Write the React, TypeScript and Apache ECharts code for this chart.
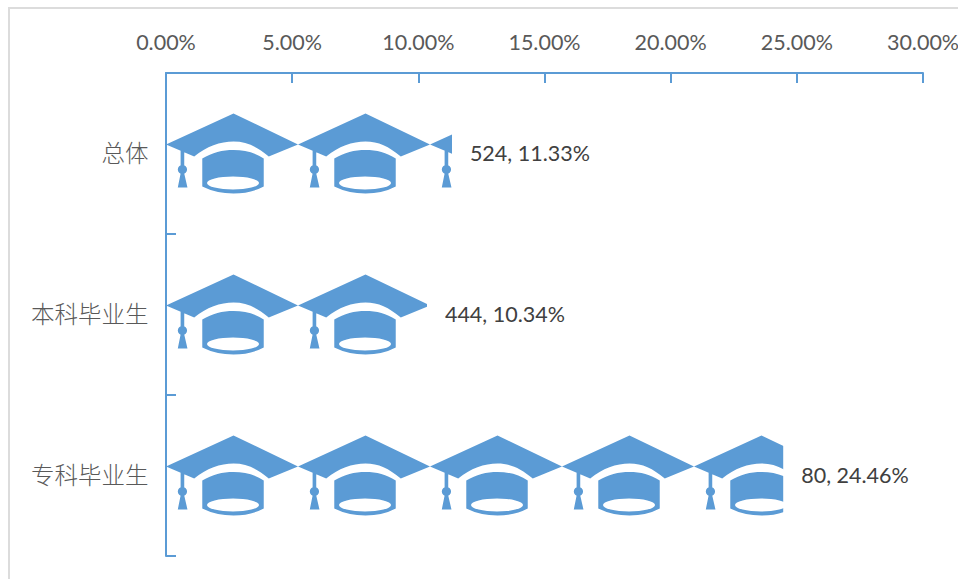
import React, { useEffect, useRef } from "react";
import * as echarts from "echarts";

const categories = ["总体", "本科毕业生", "专科毕业生"];
const counts = [524, 444, 80];
const rates = [11.33, 10.34, 24.46];
const tickStep = 5;
const axisMax = 30;

const W = 958;
const H = 579;
const LEFT = 166;
const RIGHT = 923;
const TOP = 73;
const BOTTOM = 556;
const ICON_W = 132;
const ICON_H = 80;
const ICON_COUNT = 5;
const BLUE = "#5B9BD5";

const capPath =
  "path://M0 31 L67 0 L131 31 L102 43 C90 33 80 28 67 28 C54 28 40 33 28 43 Z " +
  "M14.5 37 L18.1 37 L18.1 60 L14.5 60 Z " +
  "M11.7 56 A4.6 4.6 0 0 1 20.9 56 A4.6 4.6 0 0 1 11.7 56 Z " +
  "M14.5 60 L18.1 60 L21.3 74 L11.7 74 Z " +
  "M36 45 C46 39 56 36.5 67 36.5 C78 36.5 88 39 97 45 L97 73 Q84 80 67 80 Q50 80 36 73 Z " +
  "M40.7 69.5 A25.8 6.5 0 0 0 92.3 69.5 A25.8 6.5 0 0 0 40.7 69.5 Z";

export default function App() {
  const ref = useRef<HTMLDivElement>(null);
  useEffect(() => {
    const chart = echarts.init(ref.current!, undefined, { renderer: "svg" });
    const pxPerUnit = (RIGHT - LEFT) / axisMax;
    chart.setOption({
      animation: false,
      backgroundColor: "#fff",
      grid: {
        left: LEFT,
        right: W - RIGHT,
        top: TOP,
        bottom: H - BOTTOM,
        containLabel: false,
        outerBoundsMode: "none",
      },
      graphic: [
        {
          type: "polyline",
          shape: { points: [[9, H], [9, 8], [W, 8]] },
          style: { stroke: "#DCDCDC", lineWidth: 2, fill: "none" },
          silent: true,
        },
      ],
      xAxis: {
        type: "value",
        position: "top",
        min: 0,
        max: axisMax,
        interval: tickStep,
        axisLine: { show: true, lineStyle: { color: BLUE, width: 2 } },
        axisTick: { show: true, inside: true, length: 10, lineStyle: { color: BLUE, width: 2 } },
        splitLine: { show: false },
        axisLabel: {
          margin: 20,
          color: "#595959",
          fontFamily: "Lato",
          fontSize: 21.5,
          hideOverlap: false,
          showMinLabel: true,
          showMaxLabel: true,
          formatter: (v: number) => v.toFixed(2) + "%",
        },
      },
      yAxis: {
        type: "category",
        inverse: true,
        data: categories,
        axisLine: { show: true, lineStyle: { color: BLUE, width: 2 } },
        axisTick: { show: true, inside: true, length: 10, alignWithLabel: false, lineStyle: { color: BLUE, width: 2 } },
        axisLabel: {
          margin: 17.5,
          formatter: (v: string) => `{t|${v}}`,
          rich: {
            t: {
              color: "#595959",
              fontFamily: "Noto Sans CJK SC",
              fontWeight: 300,
              fontSize: 23.5,
              padding: [0, 0, 4, 0],
            },
          },
        },
      },
      series: [
        {
          type: "pictorialBar",
          symbol: capPath,
          symbolSize: [ICON_W, ICON_H],
          symbolRepeat: "fixed",
          symbolMargin: 0,
          symbolClip: true,
          symbolPosition: "start",
          symbolBoundingData: (ICON_W * ICON_COUNT) / pxPerUnit,
          itemStyle: { color: BLUE },
          z: 2,
          data: rates,
        },
        {
          type: "bar",
          barWidth: ICON_H,
          barGap: "-100%",
          itemStyle: { color: "transparent" },
          silent: true,
          label: {
            show: true,
            position: "right",
            distance: 18,
            formatter: (p: any) => `{t|${counts[p.dataIndex]}, ${rates[p.dataIndex].toFixed(2)}%}`,
            rich: {
              t: {
                color: "#404040",
                fontFamily: "Lato",
                fontSize: 21.5,
                padding: [0, 0, 2, 0],
              },
            },
          },
          data: rates,
        },
      ],
    });
    return () => chart.dispose();
  }, []);
  return <div ref={ref} style={{ position: "absolute", left: 0, top: 0, width: W, height: H }} />;
}
